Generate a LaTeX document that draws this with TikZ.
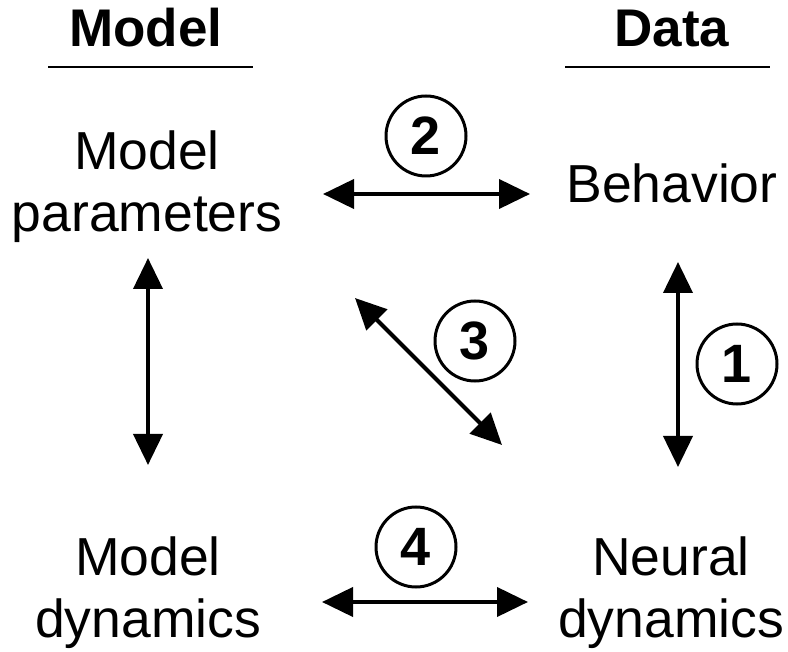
\documentclass[tikz,border=0pt]{standalone}
\usepackage{fontspec}
\setmainfont{Liberation Sans}
\usetikzlibrary{arrows.meta}
\begin{document}
\begin{tikzpicture}[x=1pt,y=-1pt,
  lbl/.style={inner sep=0pt, align=center, anchor=base, font=\fontsize{53.5}{62}\selectfont},
  hdr/.style={inner sep=0pt, anchor=base, font=\fontsize{53}{62}\selectfont\bfseries},
  rule/.style={line width=2.5pt},
  dblarrow/.style={line width=4pt, {Triangle[length=31pt,width=29pt]}-{Triangle[length=31pt,width=29pt]}},
  num/.style={circle, draw, line width=3pt, minimum size=80pt, inner sep=0pt, font=\fontsize{54}{60}\selectfont\bfseries}
]
\useasboundingbox (0,0) rectangle (788,652);
% headers
\node[hdr] (hmodel) at (146,47) {Model};
\node[hdr] (hdata) at (672,47) {Data};
\coordinate (ulA) at (48,67); \coordinate (ulB) at (253,67);
\coordinate (urA) at (565,67); \coordinate (urB) at (770,67);
\draw[rule] (ulA) -- (ulB);
\draw[rule] (urA) -- (urB);
% labels (base anchor = baseline of last line)
\node[lbl] (params) at (147,232) {Model\\parameters};
\node[lbl] (behav) at (672,203) {Behavior};
\node[lbl] (mdyn) at (148,637) {Model\\dynamics};
\node[lbl] (ndyn) at (671,637) {Neural\\dynamics};
% arrow end points
\coordinate (a2L) at (323,194); \coordinate (a2R) at (530,194);
\coordinate (a4L) at (322,602); \coordinate (a4R) at (528,602);
\coordinate (avLT) at (148,258); \coordinate (avLB) at (148,465);
\coordinate (avRT) at (678,262); \coordinate (avRB) at (678,467);
\coordinate (adA) at (355,298); \coordinate (adB) at (502,445);
\draw[dblarrow] (a2L) -- (a2R);
\draw[dblarrow] (a4L) -- (a4R);
\draw[dblarrow] (avLT) -- (avLB);
\draw[dblarrow] (avRT) -- (avRB);
\draw[dblarrow] (adA) -- (adB);
% numbers
\node[num] (n1) at (737,364) {1};
\node[num] (n2) at (426,136) {2};
\node[num] (n3) at (475,341) {3};
\node[num] (n4) at (416,547) {4};
\end{tikzpicture}
\end{document}
